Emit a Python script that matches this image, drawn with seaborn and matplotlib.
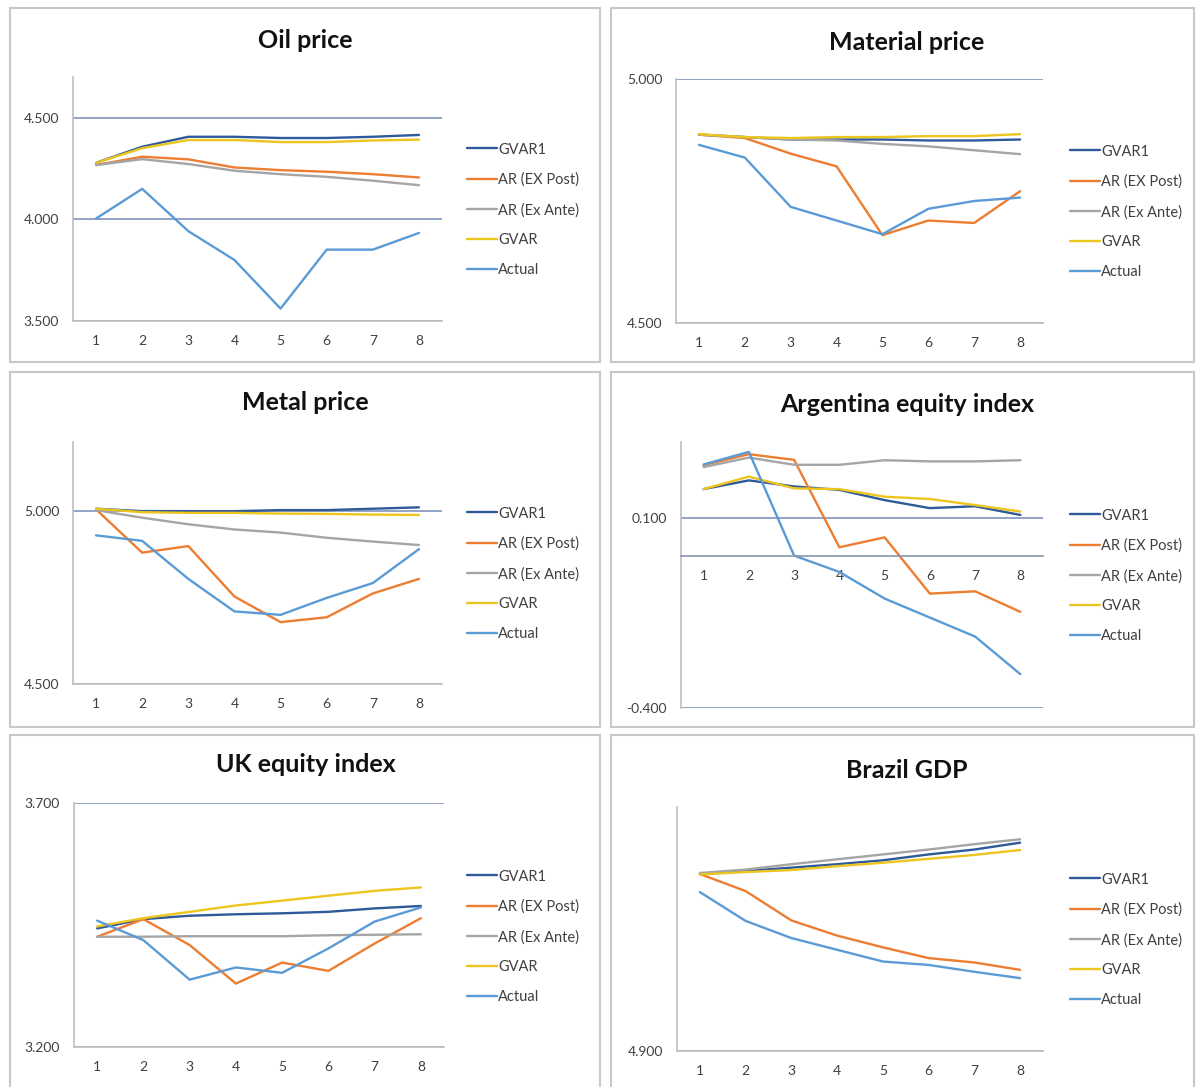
import numpy as np
import pandas as pd
import matplotlib.pyplot as plt
import seaborn as sns
from matplotlib.patches import Rectangle
from matplotlib.lines import Line2D
from matplotlib.ticker import FormatStrFormatter

# ------------------------------------------------------------------
# data
# ------------------------------------------------------------------
steps = [1, 2, 3, 4, 5, 6, 7, 8]
models = ["GVAR1", "AR (EX Post)", "AR (Ex Ante)", "GVAR", "Actual"]
colors = ["#2f5a9a", "#ed7d31", "#a5a5a5", "#ecc51e", "#5b9bd5"]

oil_gvar1 = [4.278, 4.357, 4.406, 4.406, 4.400, 4.400, 4.406, 4.415]
oil_ar_post = [4.267, 4.308, 4.295, 4.255, 4.242, 4.234, 4.222, 4.206]
oil_ar_ante = [4.267, 4.296, 4.272, 4.239, 4.222, 4.209, 4.190, 4.168]
oil_gvar = [4.278, 4.350, 4.390, 4.390, 4.380, 4.380, 4.388, 4.392]
oil_actual = [4.004, 4.150, 3.942, 3.800, 3.561, 3.851, 3.851, 3.933]

mat_gvar1 = [4.886, 4.881, 4.876, 4.876, 4.876, 4.874, 4.874, 4.876]
mat_ar_post = [4.886, 4.879, 4.847, 4.821, 4.680, 4.710, 4.705, 4.770]
mat_ar_ante = [4.886, 4.881, 4.876, 4.874, 4.867, 4.862, 4.854, 4.846]
mat_gvar = [4.887, 4.881, 4.879, 4.881, 4.881, 4.883, 4.883, 4.887]
mat_actual = [4.865, 4.839, 4.738, 4.710, 4.682, 4.734, 4.750, 4.757]

met_gvar1 = [5.007, 5.000, 5.000, 5.000, 5.003, 5.003, 5.007, 5.011]
met_ar_post = [5.005, 4.880, 4.899, 4.753, 4.679, 4.693, 4.762, 4.804]
met_ar_ante = [5.003, 4.981, 4.962, 4.947, 4.938, 4.923, 4.912, 4.902]
met_gvar = [5.007, 4.997, 4.995, 4.995, 4.993, 4.992, 4.990, 4.989]
met_actual = [4.930, 4.914, 4.804, 4.710, 4.700, 4.749, 4.792, 4.890]

arg_gvar1 = [0.176, 0.199, 0.183, 0.174, 0.147, 0.126, 0.131, 0.108]
arg_ar_post = [0.239, 0.268, 0.253, 0.023, 0.049, -0.099, -0.093, -0.147]
arg_ar_ante = [0.234, 0.259, 0.240, 0.240, 0.252, 0.249, 0.249, 0.252]
arg_gvar = [0.176, 0.209, 0.178, 0.176, 0.156, 0.150, 0.134, 0.117]
arg_actual = [0.241, 0.274, 0.001, -0.042, -0.112, -0.162, -0.212, -0.311]

uk_gvar1 = [3.443, 3.462, 3.469, 3.472, 3.474, 3.477, 3.484, 3.489]
uk_ar_post = [3.426, 3.462, 3.409, 3.330, 3.373, 3.356, 3.412, 3.464]
uk_ar_ante = [3.426, 3.426, 3.427, 3.427, 3.427, 3.429, 3.430, 3.431]
uk_gvar = [3.447, 3.464, 3.477, 3.490, 3.500, 3.510, 3.520, 3.527]
uk_actual = [3.459, 3.419, 3.338, 3.363, 3.352, 3.402, 3.457, 3.486]

bra_gvar1 = [5.262, 5.268, 5.275, 5.282, 5.290, 5.302, 5.312, 5.326]
bra_ar_post = [5.262, 5.227, 5.167, 5.136, 5.112, 5.090, 5.081, 5.066]
bra_ar_ante = [5.264, 5.271, 5.282, 5.292, 5.302, 5.312, 5.323, 5.333]
bra_gvar = [5.261, 5.266, 5.270, 5.278, 5.285, 5.293, 5.301, 5.311]
bra_actual = [5.225, 5.166, 5.131, 5.107, 5.083, 5.076, 5.062, 5.049]

# ------------------------------------------------------------------
# panel layout (pixel boxes on a 1196x1087 canvas)
# ------------------------------------------------------------------
W, H = 1196, 1087

panels = [
    dict(title="Oil price", series=[oil_gvar1, oil_ar_post, oil_ar_ante, oil_gvar, oil_actual],
         ylim=(3.5, 4.7), yticks=[3.5, 4.0, 4.5], frame=(10, 8, 600, 362),
         axes=(73, 77, 442, 321), title_xy=(305, 40), legend_xy=(467, 210)),
    dict(title="Material price", series=[mat_gvar1, mat_ar_post, mat_ar_ante, mat_gvar, mat_actual],
         ylim=(4.5, 5.0), yticks=[4.5, 5.0], frame=(611, 8, 1194, 362),
         axes=(676, 79, 1043, 323), title_xy=(907, 42), legend_xy=(1070, 212)),
    dict(title="Metal price", series=[met_gvar1, met_ar_post, met_ar_ante, met_gvar, met_actual],
         ylim=(4.5, 5.2), yticks=[4.5, 5.0], frame=(10, 372, 600, 727),
         axes=(73, 442, 442, 684), title_xy=(305, 402), legend_xy=(467, 574)),
    dict(title="Argentina equity index", series=[arg_gvar1, arg_ar_post, arg_ar_ante, arg_gvar, arg_actual],
         ylim=(-0.4, 0.3), yticks=[-0.4, 0.1], frame=(611, 372, 1194, 727),
         axes=(681, 442, 1043, 708), title_xy=(907, 405), legend_xy=(1070, 576)),
    dict(title="UK equity index", series=[uk_gvar1, uk_ar_post, uk_ar_ante, uk_gvar, uk_actual],
         ylim=(3.2, 3.7), yticks=[3.2, 3.7], frame=(10, 735, 600, 1100),
         axes=(74, 803, 444, 1047), title_xy=(306, 765), legend_xy=(467, 937)),
    dict(title="Brazil GDP", series=[bra_gvar1, bra_ar_post, bra_ar_ante, bra_gvar, bra_actual],
         ylim=(4.9, 5.399), yticks=[4.9], frame=(611, 735, 1194, 1100),
         axes=(677, 807, 1043, 1051), title_xy=(907, 770), legend_xy=(1070, 940)),
]

sns.set_theme(style="white")
plt.rcParams["font.family"] = ["Lato", "DejaVu Sans"]

fig = plt.figure(figsize=(W / 100, H / 100), dpi=100)
fig.patch.set_facecolor("white")

handles = [Line2D([], [], color=c, lw=1.7) for c in colors]

for p in panels:
    # panel frame
    x0, y0, x1, y1 = p["frame"]
    fig.patches.append(Rectangle((x0 / W, 1 - y1 / H), (x1 - x0) / W, (y1 - y0) / H,
                                 transform=fig.transFigure, fill=False,
                                 edgecolor="#c8c8c8", lw=1.5))

    l, t, r, b = p["axes"]
    ax = fig.add_axes([l / W, 1 - b / H, (r - l) / W, (b - t) / H])

    df = pd.DataFrame({
        "step": steps * len(models),
        "value": np.concatenate(p["series"]),
        "model": np.repeat(models, len(steps)),
    })
    sns.lineplot(data=df, x="step", y="value", hue="model", hue_order=models,
                 palette=colors, lw=1.7, legend=False, ax=ax)

    ax.set_xlim(0.5, 8.5)
    ax.set_xticks(steps)
    ax.set_ylim(*p["ylim"])
    ax.set_yticks(p["yticks"])
    ax.yaxis.set_major_formatter(FormatStrFormatter("%.3f"))
    ax.set_xlabel("")
    ax.set_ylabel("")
    ax.set_facecolor("none")

    ax.grid(axis="y", color="#8093bd", lw=1.2)
    ax.grid(axis="x", visible=False)
    ax.set_axisbelow(True)
    for side in ["top", "right"]:
        ax.spines[side].set_visible(False)
    for side in ["left", "bottom"]:
        ax.spines[side].set_color("#bfbfbf")
        ax.spines[side].set_linewidth(1.2)
    if p["ylim"][0] < 0 < p["ylim"][1]:
        ax.spines["bottom"].set_position(("data", 0))
        ax.spines["bottom"].set_color("#8a96ae")

    ax.tick_params(length=0, labelsize=10, colors="#404040")
    ax.tick_params(axis="y", pad=10)
    ax.tick_params(axis="x", pad=10)

    tx, ty = p["title_xy"]
    fig.text(tx / W, 1 - ty / H, p["title"], ha="center", va="center",
             fontsize=18, fontweight="bold", color="#111111")

    lx, ly = p["legend_xy"]
    fig.legend(handles, models, loc="center left", bbox_to_anchor=(lx / W, 1 - ly / H),
               frameon=False, fontsize=10.5, handlelength=2.05, handletextpad=0.1,
               labelspacing=1.1, borderpad=0, borderaxespad=0, labelcolor="#404040")

fig.savefig("out.png", dpi=100)
